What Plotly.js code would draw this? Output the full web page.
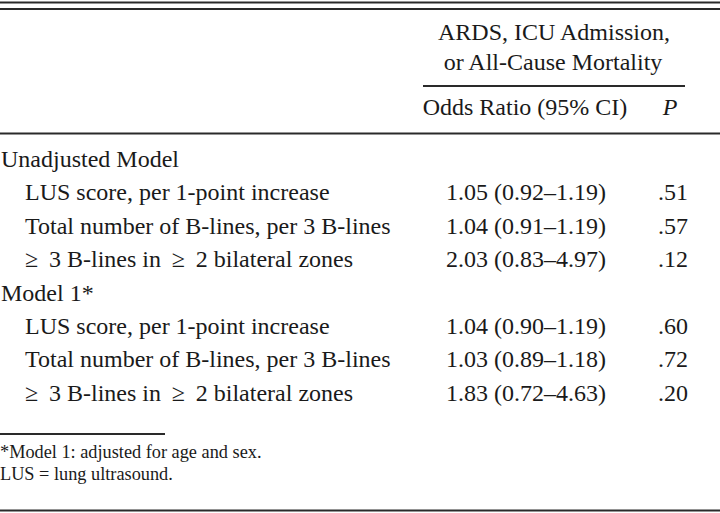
<!DOCTYPE html>
<html>
<head>
<meta charset="utf-8">
<script src="https://cdn.plot.ly/plotly-3.0.1.min.js"></script>
<style>html,body{margin:0;padding:0;background:#fff;}#chart{width:720px;height:513px;}</style>
</head>
<body>
<div id="chart"></div>
<script>
// ---- data ----
const groups = ["Unadjusted Model", "Model 1*"];
const measures = [
  "LUS score, per 1-point increase",
  "Total number of B-lines, per 3 B-lines",
  "\u2265\u2009 3 B-lines in\u2009 \u2265\u2009 2 bilateral zones"
];
const oddsRatios = [
  ["1.05 (0.92\u20131.19)", "1.04 (0.91\u20131.19)", "2.03 (0.83\u20134.97)"],
  ["1.04 (0.90\u20131.19)", "1.03 (0.89\u20131.18)", "1.83 (0.72\u20134.63)"]
];
const pValues = [
  [".51", ".57", ".12"],
  [".60", ".72", ".20"]
];
const headerOutcome = ["ARDS, ICU Admission,", "or All-Cause Mortality"];
const headerCols = ["Odds Ratio (95% CI)", "<i>P</i>"];
const footnotes = ["*Model 1: adjusted for age and sex.", "LUS = lung ultrasound."];

// ---- layout constants ----
const FONT = "Liberation Serif, Times New Roman, serif";
const INK = "#1a1a1a";
const rowStart = 161, rowStep = 33.4;
const xGroup = 1, xMeasure = 25, xOR = 526, xP = 673;

const labelX = [], labelY = [], labelT = [];
const orX = [], orY = [], orT = [];
const pX = [], pY = [], pT = [];
let r = 0;
groups.forEach((g, gi) => {
  labelX.push(xGroup); labelY.push(rowStart + r * rowStep); labelT.push(g); r++;
  measures.forEach((m, mi) => {
    const y = rowStart + r * rowStep;
    labelX.push(xMeasure); labelY.push(y); labelT.push(m);
    orX.push(xOR); orY.push(y); orT.push(oddsRatios[gi][mi]);
    pX.push(xP); pY.push(y); pT.push(pValues[gi][mi]);
    r++;
  });
});

const tf = {family: FONT, size: 24, color: INK};
const traces = [
  {type: "scatter", mode: "text", x: labelX, y: labelY, text: labelT, textposition: "middle right", textfont: tf, hoverinfo: "skip", cliponaxis: false},
  {type: "scatter", mode: "text", x: orX, y: orY, text: orT, textposition: "middle center", textfont: tf, hoverinfo: "skip", cliponaxis: false},
  {type: "scatter", mode: "text", x: pX, y: pY, text: pT, textposition: "middle center", textfont: tf, hoverinfo: "skip", cliponaxis: false},
  {type: "scatter", mode: "text", x: [554, 553], y: [33.5, 63.5], text: headerOutcome, textposition: "middle center", textfont: tf, hoverinfo: "skip", cliponaxis: false},
  {type: "scatter", mode: "text", x: [525, 670], y: [108.5, 108.5], text: headerCols, textposition: "middle center", textfont: tf, hoverinfo: "skip", cliponaxis: false},
  {type: "scatter", mode: "text", x: [0, 0], y: [453.5, 475.5], text: footnotes, textposition: "middle right", textfont: {family: FONT, size: 18.3, color: INK}, hoverinfo: "skip", cliponaxis: false}
];

function hline(x0, x1, y, w) {
  return {type: "line", xref: "x", yref: "y", x0: x0, x1: x1, y0: y, y1: y, line: {color: "#2a2a2a", width: w}};
}

const layout = {
  width: 720, height: 513,
  margin: {l: 0, r: 0, t: 0, b: 0},
  paper_bgcolor: "#fff", plot_bgcolor: "#fff",
  showlegend: false,
  xaxis: {range: [0, 720], visible: false, fixedrange: true},
  yaxis: {range: [513, 0], visible: false, fixedrange: true},
  shapes: [
    hline(0, 720, 2.5, 2),
    hline(0, 720, 9, 2.2),
    hline(423, 685, 86, 2),
    hline(0, 720, 133.5, 2.2),
    hline(0, 165, 434, 2),
    hline(0, 720, 510.5, 2)
  ]
};

Plotly.newPlot("chart", traces, layout, {staticPlot: true, displayModeBar: false});
</script>
</body>
</html>
